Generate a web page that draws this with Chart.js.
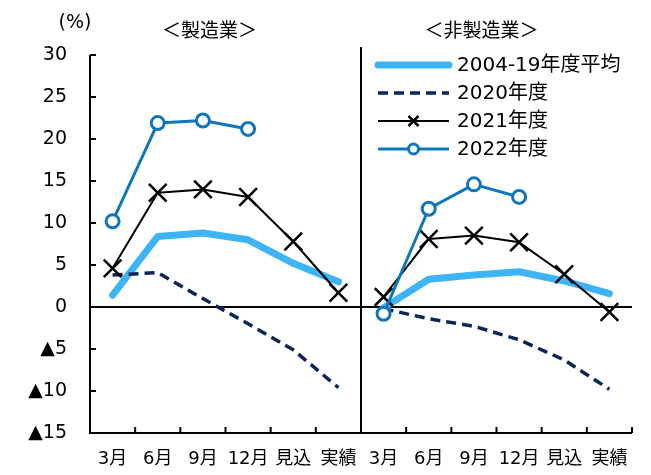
<!DOCTYPE html>
<html>
<head>
<meta charset="utf-8">
<script src="https://cdn.jsdelivr.net/npm/chart.js@4/dist/chart.umd.min.js"></script>
<style>
  html, body { margin: 0; padding: 0; background: #fff; }
  #wrap { width: 651px; height: 475px; }
</style>
</head>
<body>
<div id="wrap"><canvas id="chart" width="651" height="475"></canvas></div>
<script>
const FONT = "'DejaVu Sans', 'Noto Sans CJK JP', sans-serif"

const months = ['3月', '6月', '9月', '12月', '見込', '実績']
const panelTitles = ['＜製造業＞', '＜非製造業＞']
const seriesNames = ['2004-19年度平均', '2020年度', '2021年度', '2022年度']

// 製造業
const mfgAvg = [1.4, 8.4, 8.8, 8.0, 5.2, 3.0]
const mfg2020 = [3.8, 4.1, 1.0, -2.0, -5.1, -9.6]
const mfg2021 = [4.6, 13.6, 14.0, 13.1, 7.8, 1.7]
const mfg2022 = [10.2, 21.9, 22.2, 21.2, null, null]

// 非製造業
const nonAvg = [-0.1, 3.3, 3.8, 4.2, 3.1, 1.6]
const non2020 = [-0.2, -1.4, -2.3, -3.9, -6.3, -9.8]
const non2021 = [1.2, 8.1, 8.5, 7.7, 3.9, -0.6]
const non2022 = [-0.8, 11.7, 14.6, 13.1, null, null]

const labels = months.concat(months)
const blank = months.map(() => null)
const leftSide = arr => arr.concat(blank)
const rightSide = arr => blank.concat(arr)

const styles = [
    { color: '#3db4f5', width: 7, dash: [], point: false, order: 4 },
    { color: '#0b2459', width: 3.5, dash: [10, 6], point: false, order: 3 },
    { color: '#000000', width: 2, dash: [], point: 'crossRot', radius: 12.5, pw: 2.5, order: 2 },
    { color: '#0f76bd', width: 3, dash: [], point: 'circle', radius: 6.5, pw: 3, order: 1 }
]

function makeSet(data, i) {
    const s = styles[i]
    return {
        label: seriesNames[i],
        data: data,
        borderColor: s.color,
        borderWidth: s.width,
        borderDash: s.dash,
        borderCapStyle: i == 0 ? 'round' : 'butt',
        borderJoinStyle: 'round',
        pointStyle: s.point || 'circle',
        pointRadius: s.point ? s.radius : 0,
        pointBorderWidth: s.pw || 0,
        pointBorderColor: s.color,
        pointBackgroundColor: '#fff',
        spanGaps: false,
        tension: 0,
        order: s.order
    }
}

const datasets = [
    makeSet(leftSide(mfgAvg), 0), makeSet(rightSide(nonAvg), 0),
    makeSet(leftSide(mfg2020), 1), makeSet(rightSide(non2020), 1),
    makeSet(leftSide(mfg2021), 2), makeSet(rightSide(non2021), 2),
    makeSet(leftSide(mfg2022), 3), makeSet(rightSide(non2022), 3)
]

// axes, zero line, divider, inward ticks, titles and legend
const framePlugin = {
    id: 'frame',
    beforeDatasetsDraw(chart) {
        const ctx = chart.ctx
        const a = chart.chartArea
        const xs = chart.scales.x
        const ys = chart.scales.y
        const zero = ys.getPixelForValue(0)
        const mid = (xs.getPixelForValue(5) + xs.getPixelForValue(6)) / 2
        ctx.save()
        ctx.strokeStyle = '#000'
        ctx.lineWidth = 2
        ctx.beginPath()
        ctx.moveTo(a.left, a.top)
        ctx.lineTo(a.left, a.bottom)
        ctx.lineTo(a.right, a.bottom)
        ctx.moveTo(a.left, zero)
        ctx.lineTo(a.right, zero)
        ctx.moveTo(mid, a.top - 8)
        ctx.lineTo(mid, a.bottom)
        ys.ticks.forEach(t => {
            const y = ys.getPixelForValue(t.value)
            ctx.moveTo(a.left, y)
            ctx.lineTo(a.left + 6, y)
        })
        for (let i = 0; i <= labels.length; i++) {
            const x = i < labels.length
                ? xs.getPixelForValue(i) - (xs.getPixelForValue(1) - xs.getPixelForValue(0)) / 2
                : a.right
            ctx.moveTo(x, a.bottom)
            ctx.lineTo(x, a.bottom - 6)
        }
        ctx.stroke()

        ctx.fillStyle = '#000'
        ctx.font = '19px ' + FONT
        ctx.textAlign = 'center'
        ctx.textBaseline = 'middle'
        ctx.fillText(panelTitles[0], (a.left + mid) / 2 - 16, 32)
        ctx.fillText(panelTitles[1], (mid + a.right) / 2 - 15, 32)
        ctx.fillText('(%)', 75, 23)
        ctx.restore()
    },
    afterDraw(chart) {
        const ctx = chart.ctx
        const x0 = 378, x1 = 449, tx = 457
        ctx.save()
        styles.forEach((s, i) => {
            const y = 65 + i * 28
            ctx.strokeStyle = s.color
            ctx.lineWidth = s.width
            ctx.lineCap = i == 0 ? 'round' : 'butt'
            ctx.setLineDash(s.dash)
            ctx.beginPath()
            ctx.moveTo(x0, y)
            ctx.lineTo(x1, y)
            ctx.stroke()
            ctx.setLineDash([])
            const cx = (x0 + x1) / 2
            if (s.point == 'crossRot') {
                ctx.lineWidth = 2.5
                ctx.beginPath()
                ctx.moveTo(cx - 5, y - 5); ctx.lineTo(cx + 5, y + 5)
                ctx.moveTo(cx + 5, y - 5); ctx.lineTo(cx - 5, y + 5)
                ctx.stroke()
            } else if (s.point == 'circle') {
                ctx.lineWidth = 3
                ctx.fillStyle = '#fff'
                ctx.beginPath()
                ctx.arc(cx, y, 5, 0, Math.PI * 2)
                ctx.fill()
                ctx.stroke()
            }
            ctx.fillStyle = '#000'
            ctx.font = '20px ' + FONT
            ctx.textAlign = 'left'
            ctx.textBaseline = 'middle'
            ctx.fillText(seriesNames[i], tx, y + 1)
        })
        ctx.restore()
    }
}

new Chart(document.getElementById('chart'), {
    type: 'line',
    data: { labels: labels, datasets: datasets },
    options: {
        responsive: false,
        animation: false,
        events: [],
        layout: { padding: { top: 55, right: 19, left: 0, bottom: 0 } },
        plugins: { legend: { display: false }, tooltip: { enabled: false } },
        scales: {
            x: {
                type: 'category',
                offset: true,
                border: { display: false },
                grid: { display: false, drawTicks: false },
                ticks: {
                    color: '#000',
                    font: { family: FONT, size: 18 },
                    maxRotation: 0,
                    autoSkip: false,
                    padding: 16
                },
                afterFit(scale) { scale.height = 42 }
            },
            y: {
                min: -15,
                max: 30,
                border: { display: false },
                grid: { display: false, drawTicks: false },
                ticks: {
                    stepSize: 5,
                    color: '#000',
                    font: { family: FONT, size: 19 },
                    padding: 23,
                    callback: v => v < 0 ? '▲' + (-v) : String(v)
                },
                afterFit(scale) { scale.width = 90 }
            }
        }
    },
    plugins: [framePlugin]
})
</script>
</body>
</html>
